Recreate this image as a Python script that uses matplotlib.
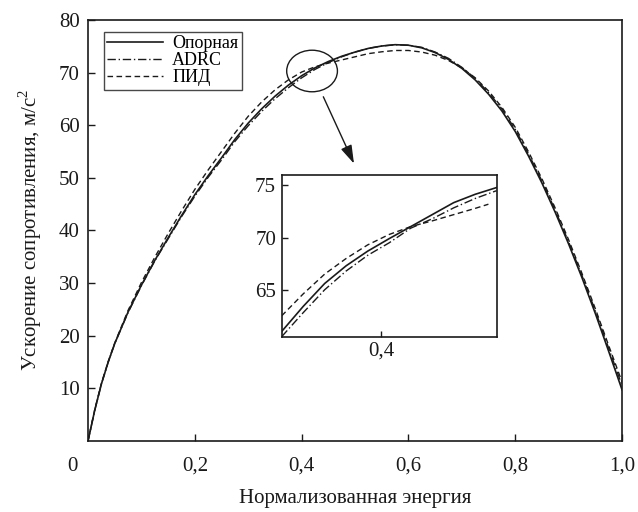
import numpy as np
import matplotlib
matplotlib.use("Agg")
import matplotlib.pyplot as plt
from matplotlib.patches import Ellipse

plt.rcParams['font.family'] = ['Liberation Serif', 'DejaVu Serif']
plt.rcParams['mathtext.fontset'] = 'custom'
plt.rcParams['mathtext.rm'] = 'Liberation Serif'

# данные
energia = [0.0, 0.0125, 0.025, 0.0375, 0.05, 0.075, 0.1, 0.125, 0.15, 0.175,
           0.2, 0.225, 0.25, 0.275, 0.3, 0.325, 0.35, 0.375, 0.4, 0.425,
           0.45, 0.475, 0.5, 0.525, 0.55, 0.575, 0.6, 0.625, 0.65, 0.675,
           0.7, 0.725, 0.75, 0.775, 0.8, 0.825, 0.85, 0.875, 0.9, 0.925,
           0.95, 0.975, 1.0]
opornaya = [0.0, 5.8, 10.8, 14.9, 18.5, 24.5, 29.6, 34.3, 38.6, 42.8,
            46.8, 50.4, 53.8, 57.3, 60.4, 63.1, 65.5, 67.6, 69.4, 70.9,
            72.1, 73.1, 73.9, 74.6, 75.05, 75.3, 75.2, 74.7, 73.8, 72.5,
            70.8, 68.6, 65.9, 62.7, 58.8, 54.1, 49.0, 43.4, 37.4, 31.0,
            24.2, 17.0, 9.7]
adrc = [0.0, 5.8, 10.8, 14.9, 18.5, 24.4, 29.5, 34.2, 38.4, 42.6,
        46.5, 50.1, 53.4, 56.9, 59.9, 62.6, 65.0, 67.1, 69.0, 70.6,
        71.9, 73.0, 73.9, 74.6, 75.05, 75.3, 75.2, 74.8, 73.9, 72.7,
        71.0, 68.9, 66.2, 63.1, 59.2, 54.5, 49.4, 43.8, 37.8, 31.4,
        24.7, 17.6, 10.5]
pid = [0.0, 5.9, 10.9, 15.0, 18.6, 24.8, 30.1, 34.9, 39.4, 43.7,
       47.8, 51.5, 55.0, 58.5, 61.7, 64.4, 66.7, 68.6, 70.1, 71.1,
       71.8, 72.4, 73.0, 73.6, 73.95, 74.2, 74.2, 73.9, 73.3, 72.3,
       70.9, 69.0, 66.5, 63.4, 59.6, 54.9, 49.8, 44.2, 38.2, 31.8,
       25.1, 18.1, 11.2]

# увеличенный фрагмент
vstavka_x = [0.34, 0.353, 0.366, 0.379, 0.392, 0.405, 0.418, 0.431, 0.444, 0.457, 0.47]
vstavka_op = [61.0, 63.4, 65.6, 67.3, 68.7, 69.9, 71.05, 72.2, 73.35, 74.15, 74.8]
vstavka_adrc = [60.5, 62.8, 65.0, 66.8, 68.3, 69.5, 70.9, 71.8, 72.85, 73.75, 74.5]
vstavka_pid_x = [0.34, 0.353, 0.366, 0.379, 0.392, 0.405, 0.418, 0.431, 0.444, 0.457, 0.465]
vstavka_pid = [62.5, 64.6, 66.5, 68.0, 69.3, 70.3, 71.05, 71.6, 72.2, 72.8, 73.2]

xticks = [0.2, 0.4, 0.6, 0.8, 1.0]
xticklabels = ['0,2', '0,4', '0,6', '0,8', '1,0']
yticks = [10, 20, 30, 40, 50, 60, 70, 80]

cvet = '#1a1a1a'
fs = 15

fig = plt.figure(figsize=(6.38, 5.12), dpi=100)
ax = fig.add_axes([0.138, 0.139, 0.837, 0.822])

ax.plot(energia, opornaya, '-', color=cvet, lw=1.2, label='Опорная')
ax.plot(energia, adrc, color=cvet, lw=1.0, dashes=[6, 2, 1, 2], label='ADRC')
ax.plot(energia, pid, color=cvet, lw=1.0, dashes=[4, 2.5], label='ПИД')

ax.set_xlim(0, 1.0)
ax.set_ylim(0, 80)
ax.set_xticks(xticks)
ax.set_xticklabels(xticklabels)
ax.set_yticks(yticks)
ax.tick_params(direction='in', length=5, width=1, labelsize=fs, colors=cvet)
ax.tick_params(axis='x', pad=11)
ax.tick_params(axis='y', pad=6)
for s in ax.spines.values():
    s.set_linewidth(1.2)
    s.set_color(cvet)
ax.text(-0.03, -3.0, '0', ha='center', va='top', fontsize=fs, color=cvet)

ax.set_xlabel('Нормализованная энергия', fontsize=fs, labelpad=10, color=cvet)
ax.set_ylabel('Ускорение сопротивления, м/с$^2$', fontsize=fs, labelpad=11, color=cvet)

leg = ax.legend(loc='upper left', bbox_to_anchor=(0.029, 0.972), fontsize=13,
                frameon=True, fancybox=False, edgecolor=cvet, handlelength=3.1,
                handletextpad=0.5, borderpad=0.2, labelspacing=0.0, borderaxespad=0)
leg.get_frame().set_linewidth(1.0)

# эллипс и стрелка
ax.add_patch(Ellipse((0.4195, 70.3), 0.095, 7.9, fill=False, ec=cvet, lw=1.0))
ax.annotate('', xy=(0.498, 52.7), xytext=(0.4406, 65.4),
            arrowprops=dict(arrowstyle='-|>,head_length=0.8,head_width=0.25', color=cvet,
                            lw=1.0, mutation_scale=14, shrinkA=0, shrinkB=0))

# вставка
axi = fig.add_axes([0.4415, 0.3424, 0.337, 0.3158])
axi.plot(vstavka_x, vstavka_op, '-', color=cvet, lw=1.2)
axi.plot(vstavka_x, vstavka_adrc, color=cvet, lw=1.0, dashes=[6, 2, 1, 2])
axi.plot(vstavka_pid_x, vstavka_pid, color=cvet, lw=1.0, dashes=[4, 2.5])
axi.set_xlim(0.34, 0.47)
axi.set_ylim(60.5, 76)
axi.set_xticks([0.4])
axi.set_xticklabels(['0,4'])
axi.set_yticks([65, 70, 75])
axi.tick_params(direction='in', length=4, width=1, labelsize=fs, colors=cvet)
axi.tick_params(axis='y', pad=4)
for s in axi.spines.values():
    s.set_linewidth(1.2)
    s.set_color(cvet)

fig.savefig('out.png', dpi=100)
